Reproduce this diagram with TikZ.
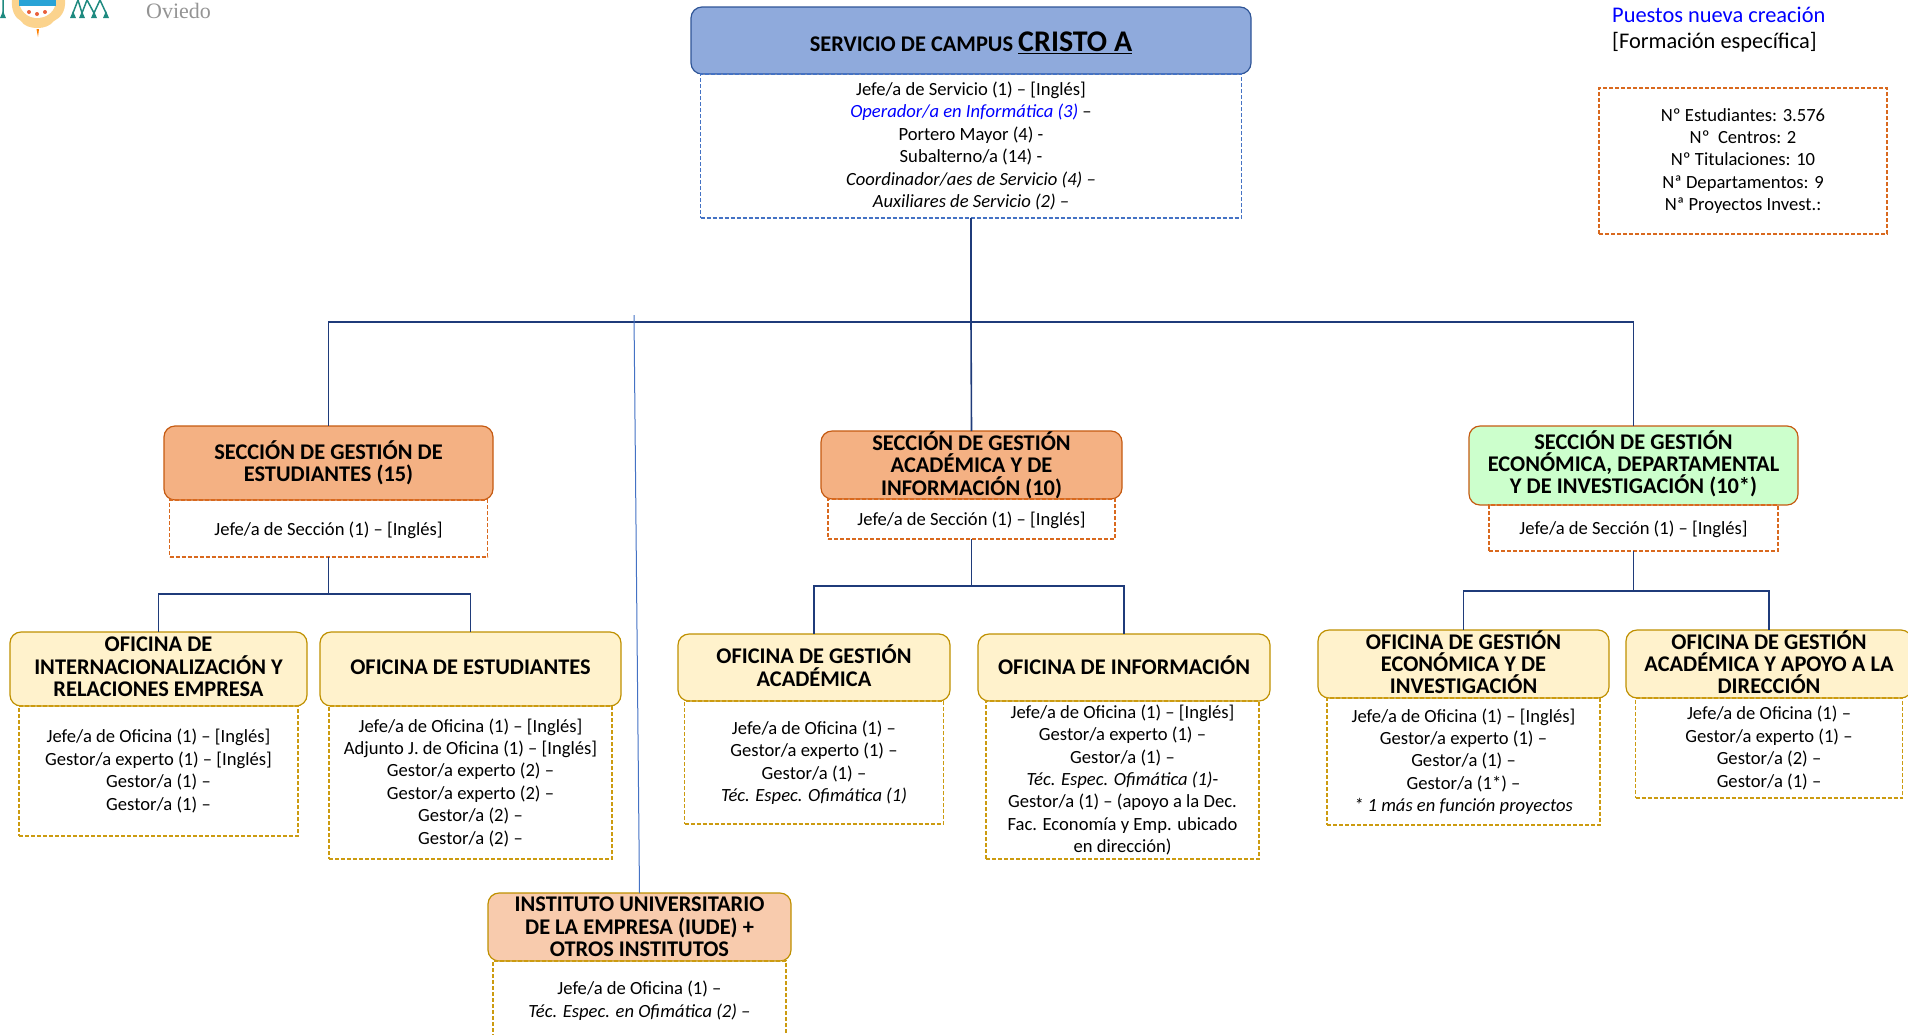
\documentclass[tikz,border=0pt]{standalone}
\usepackage{fontspec}
\setmainfont{Carlito}
\newfontfamily\logofont{Liberation Serif}
\usetikzlibrary{positioning}
\definecolor{serviceFill}{HTML}{8FAADC}
\definecolor{serviceLine}{HTML}{2F5597}
\definecolor{serviceDash}{HTML}{4472C4}
\definecolor{sectionFill}{HTML}{F4B183}
\definecolor{sectionLine}{HTML}{C55A11}
\definecolor{sectionDash}{HTML}{D9691E}
\definecolor{greenFill}{HTML}{CCFFCC}
\definecolor{officeFill}{HTML}{FFF2CC}
\definecolor{officeLine}{HTML}{BF9000}
\definecolor{officeDash}{HTML}{CC9B10}
\definecolor{instFill}{HTML}{F8CBAD}
\definecolor{busLine}{HTML}{1F3B7A}
\definecolor{crestPeach}{HTML}{FBD38D}
\definecolor{crestBlue}{HTML}{29A3D6}
\definecolor{crestTeal}{HTML}{1F8A80}
\definecolor{crestRed}{HTML}{E9603A}

\begin{document}
\begin{tikzpicture}[x=1pt,y=-1pt, node distance=0pt, draw=black]
	\tikzset{dims/.style 2 args={minimum width=#1pt,minimum height=#2pt}}
	\tikzset{lift/.style={execute at end node=\rule[-#1pt]{0pt}{0pt}}}
	\tikzset{drop/.style={execute at begin node=\rule{0pt}{#1pt}}}
	\tikzset{head/.style={rectangle,rounded corners=11pt,line width=1.2pt,align=center,inner sep=0pt,outer sep=0pt,text=black,font=\fontsize{22.4}{22.4}\selectfont\bfseries}}
	\tikzset{service/.style={head,draw=serviceLine,fill=serviceFill}}
	\tikzset{section/.style={head,draw=sectionLine,fill=sectionFill}}
	\tikzset{sectiongreen/.style={head,draw=sectionLine,fill=greenFill}}
	\tikzset{office/.style={head,draw=officeLine,fill=officeFill,lift=4}}
	\tikzset{institute/.style={head,draw=officeLine,fill=instFill}}
	\tikzset{list/.style={rectangle,dash pattern=on 4pt off 2pt,line width=1.3pt,align=center,inner sep=0pt,outer sep=0pt,text=black,font=\fontsize{18.6}{22.4}\selectfont,drop=17}}
	\tikzset{conn/.style={draw=busLine,line width=1.6pt}}
	\useasboundingbox (0,0) rectangle (1908,1034);

	% Crest
	\fill[crestPeach] (12,0) -- (65,0) .. controls (66,12) and (60,18) .. (54,21) .. controls (50,26) and (44,28) .. (38,28) .. controls (30,28) and (24,26) .. (21,21) .. controls (15,18) and (11,10) .. (12,0) -- cycle;
	\fill[white] (19,0) -- (56,0) .. controls (56,10) and (48,18) .. (37,18) .. controls (27,18) and (19,10) .. (19,0) -- cycle;
	\fill[crestBlue] (19,0) rectangle (56,6);
	\fill[crestRed] (29,12) circle (2pt) (37,14) circle (2pt) (45,12) circle (2pt);
	\fill[orange] (36.5,29) -- (39,29) -- (38,37) -- cycle;
	\draw[crestTeal,line width=1.5pt] (73,13) -- (78,0) -- (82,13) (82,13) -- (87,0) -- (94,13) (94,13) -- (100,0) -- (106,13) (3,13) -- (3,0);
	\foreach \tx in {3,73,82,94,106}
		\fill[crestTeal] (\tx,11) -- (\tx+3,18) -- (\tx-3,18) -- cycle;
	\node[text=black!42, font=\fontsize{22}{24}\logofont, anchor=west, inner sep=0pt] (oviedo) at (146,11) {Oviedo};

	% Legend
	\node[anchor=north west, inner sep=0pt, align=left, font=\fontsize{22.4}{25.5}\selectfont] (legend) at (1612,7) {\textcolor{blue}{Puestos nueva creación}\\{}[Formación específica]};
	\node[list, draw=sectionDash, dims={288}{146}] (stats) at (1743,161) {Nº Estudiantes: 3.576\\Nº\ \ Centros: 2\\Nº Titulaciones: 10\\Nª Departamentos: 9\\Nª Proyectos Invest.:};

	% Service
	\node[service, dims={560}{67}, drop=24] (serv) at (971,40.5) {SERVICIO DE CAMPUS {\fontsize{30}{30}\selectfont\underline{CRISTO A}}};
	\node[list, draw=serviceDash, dims={541}{144}] (servList) [below=of serv] {Jefe/a de Servicio (1) – [Inglés]\\\textcolor{blue}{\itshape Operador/a en Informática (3)} –\\Portero Mayor (4) -\\Subalterno/a (14) -\\{\itshape Coordinador/aes de Servicio (4) –}\\{\itshape Auxiliares de Servicio (2) –}};

	% Sections
	\node[section, dims={329}{74}] (secEst) at (328.5,463) {SECCIÓN DE GESTIÓN DE\\ESTUDIANTES (15)};
	\node[list, draw=sectionDash, dims={318}{57}] (secEstList) [below=of secEst] {Jefe/a de Sección (1) – [Inglés]};
	\node[section, dims={301}{68}] (secAca) at (971.5,465) {SECCIÓN DE GESTIÓN\\ACADÉMICA Y DE\\INFORMACIÓN (10)};
	\node[list, draw=sectionDash, dims={287}{40}] (secAcaList) [below=of secAca] {Jefe/a de Sección (1) – [Inglés]};
	\node[sectiongreen, dims={329}{79}, lift=7] (secEco) at (1633.5,465.5) {SECCIÓN DE GESTIÓN\\ECONÓMICA, DEPARTAMENTAL\\Y DE INVESTIGACIÓN (10*)};
	\node[list, draw=sectionDash, dims={289}{46}] (secEcoList) [below=of secEco] {Jefe/a de Sección (1) – [Inglés]};

	% Offices
	\node[office, dims={297}{74}] (ofiInt) at (158.5,669) {OFICINA DE\\INTERNACIONALIZACIÓN Y\\RELACIONES EMPRESA};
	\node[list, draw=officeDash, dims={279}{130}] (ofiIntList) [below=of ofiInt] {Jefe/a de Oficina (1) – [Inglés]\\Gestor/a experto (1) – [Inglés]\\Gestor/a (1) –\\Gestor/a (1) –};
	\node[office, dims={301}{74}] (ofiEst) [right=13pt of ofiInt] {OFICINA DE ESTUDIANTES};
	\node[list, draw=officeDash, dims={283}{153}] (ofiEstList) [below=of ofiEst] {Jefe/a de Oficina (1) – [Inglés]\\Adjunto J. de Oficina (1) – [Inglés]\\Gestor/a experto (2) –\\Gestor/a experto (2) –\\Gestor/a (2) –\\Gestor/a (2) –};
	\node[office, dims={272}{67}] (ofiAca) at (814,667.5) {OFICINA DE GESTIÓN\\ACADÉMICA};
	\node[list, draw=officeDash, dims={259}{123}] (ofiAcaList) [below=of ofiAca] {Jefe/a de Oficina (1) –\\Gestor/a experto (1) –\\Gestor/a (1) –\\{\itshape Téc. Espec. Ofimática (1)}};
	\node[office, dims={292}{67}] (ofiInf) [right=28pt of ofiAca] {OFICINA DE INFORMACIÓN};
	\node[list, draw=officeDash, dims={273}{158}, xshift=-1.5pt] (ofiInfList) [below=of ofiInf] {Jefe/a de Oficina (1) – [Inglés]\\Gestor/a experto (1) –\\Gestor/a (1) –\\{\itshape Téc. Espec. Ofimática (1)}-\\Gestor/a (1) – (apoyo a la Dec.\\Fac. Economía y Emp. ubicado\\en dirección)};
	\node[office, dims={291}{68}] (ofiEco) at (1463.5,664) {OFICINA DE GESTIÓN\\ECONÓMICA Y DE\\INVESTIGACIÓN};
	\node[list, draw=officeDash, dims={273}{127}] (ofiEcoList) [below=of ofiEco] {Jefe/a de Oficina (1) – [Inglés]\\Gestor/a experto (1) –\\Gestor/a (1) –\\Gestor/a (1*) –\\{\itshape * 1 más en función proyectos}};
	\node[office, dims={286}{68}] (ofiDir) [right=17pt of ofiEco] {OFICINA DE GESTIÓN\\ACADÉMICA Y APOYO A LA\\DIRECCIÓN};
	\node[list, draw=officeDash, dims={267}{100}] (ofiDirList) [below=of ofiDir] {Jefe/a de Oficina (1) –\\Gestor/a experto (1) –\\Gestor/a (2) –\\Gestor/a (1) –};

	% Institute
	\node[institute, dims={303}{68}] (inst) at (639.5,927) {INSTITUTO UNIVERSITARIO\\DE LA EMPRESA (IUDE) +\\OTROS INSTITUTOS};
	\node[list, draw=officeDash, dims={293}{79}] (instList) [below=of inst] {Jefe/a de Oficina (1) –\\{\itshape Téc. Espec. en Ofimática (2) –}};

	% Connectors
	\coordinate (busTop) at (971,322);
	\coordinate (busEst) at (329,594);
	\coordinate (busAca) at (972,586);
	\coordinate (busEco) at (1634,591);
	\coordinate (instEnd) at (634,315);
	\draw[conn] (servList.south) -- (servList.south |- busTop);
	\draw[conn] (busTop) -| (secEst.north);
	\draw[conn] (busTop) -| (secEco.north);
	\draw[conn] (busTop) -- (secAca.north);
	\draw[conn] (secEstList.south) -- (secEstList.south |- busEst);
	\draw[conn] (busEst) -| (ofiInt.north);
	\draw[conn] (busEst) -| (ofiEst.north);
	\draw[conn] (secAcaList.south) -- (secAcaList.south |- busAca);
	\draw[conn] (busAca) -| (ofiAca.north);
	\draw[conn] (busAca) -| (ofiInf.north);
	\draw[conn] (secEcoList.south) -- (secEcoList.south |- busEco);
	\draw[conn] (busEco) -| (ofiEco.north);
	\draw[conn] (busEco) -| (ofiDir.north);
	\draw[draw=serviceDash,line width=1pt] (instEnd) -- (inst.north);
\end{tikzpicture}
\end{document}
